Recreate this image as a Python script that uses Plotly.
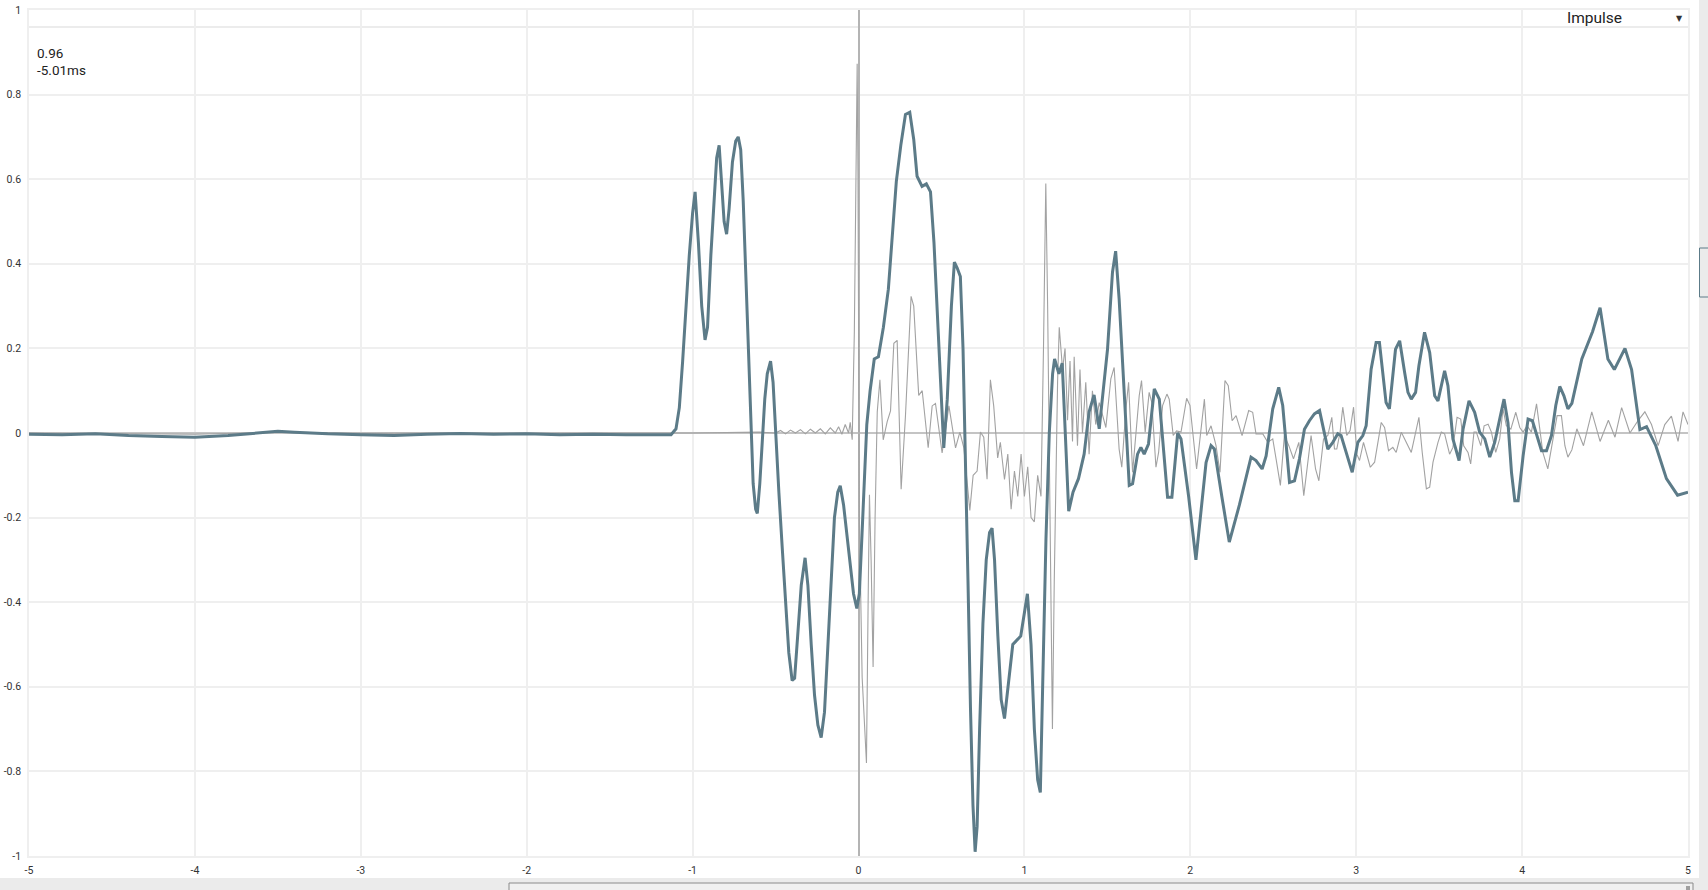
import plotly.graph_objects as go

# ---------------- data ----------------
thick_t = [-5.0, -4.8, -4.6, -4.4, -4.2, -4.0, -3.8, -3.6, -3.5, -3.4, -3.2, -3.0, -2.8, -2.6, -2.4,
           -2.2, -2.0, -1.8, -1.6, -1.4, -1.2, -1.13, -1.1, -1.08, -1.06, -1.04, -1.02, -1.0, -0.985,
           -0.965, -0.945, -0.925, -0.91, -0.89, -0.87, -0.855, -0.84, -0.825, -0.81, -0.795, -0.78,
           -0.76, -0.74, -0.725, -0.71, -0.695, -0.68, -0.665, -0.65, -0.635, -0.62, -0.61, -0.595,
           -0.58, -0.565, -0.55, -0.53, -0.515, -0.5, -0.48, -0.46, -0.44, -0.42, -0.4, -0.385, -0.365,
           -0.345, -0.322, -0.305, -0.285, -0.265, -0.245, -0.225, -0.205, -0.185, -0.165, -0.145,
           -0.125, -0.11, -0.09, -0.07, -0.05, -0.03, -0.01, 0.005, 0.02, 0.035, 0.05, 0.07, 0.095,
           0.12, 0.15, 0.18, 0.205, 0.228, 0.255, 0.283, 0.309, 0.333, 0.353, 0.383, 0.409, 0.434,
           0.455, 0.475, 0.495, 0.514, 0.535, 0.56, 0.578, 0.595, 0.614, 0.63, 0.645, 0.66, 0.675,
           0.69, 0.703, 0.715, 0.73, 0.75, 0.77, 0.79, 0.805, 0.82, 0.84, 0.86, 0.88, 0.9, 0.93,
           0.978, 1.018, 1.04, 1.06, 1.08, 1.096, 1.11, 1.13, 1.15, 1.17, 1.182, 1.208, 1.228, 1.248,
           1.267, 1.293, 1.326, 1.36, 1.39, 1.42, 1.451, 1.475, 1.501, 1.531, 1.55, 1.571, 1.602,
           1.632, 1.652, 1.682, 1.702, 1.722, 1.748, 1.783, 1.813, 1.863, 1.889, 1.924, 1.944, 1.99,
           2.034, 2.06, 2.095, 2.125, 2.145, 2.19, 2.235, 2.296, 2.366, 2.396, 2.433, 2.457, 2.497,
           2.533, 2.557, 2.598, 2.628, 2.658, 2.688, 2.718, 2.748, 2.779, 2.799, 2.829, 2.859, 2.889,
           2.909, 2.94, 2.976, 3.01, 3.04, 3.06, 3.09, 3.12, 3.14, 3.18, 3.2, 3.237, 3.262, 3.292,
           3.312, 3.332, 3.358, 3.378, 3.412, 3.443, 3.473, 3.493, 3.513, 3.533, 3.553, 3.583, 3.62,
           3.644, 3.68, 3.714, 3.744, 3.775, 3.805, 3.835, 3.865, 3.891, 3.915, 3.936, 3.956, 3.976,
           4.006, 4.036, 4.062, 4.087, 4.117, 4.147, 4.177, 4.203, 4.227, 4.252, 4.276, 4.3, 4.36,
           4.425, 4.47, 4.517, 4.556, 4.62, 4.66, 4.71, 4.75, 4.806, 4.87, 4.937, 5.0]
thick_v = [-0.003, -0.004, -0.002, -0.006, -0.008, -0.01, -0.006, 0.0, 0.004, 0.002, -0.002, -0.004,
           -0.006, -0.003, -0.001, -0.003, -0.002, -0.004, -0.003, -0.004, -0.005, -0.004, 0.01, 0.06,
           0.17, 0.3, 0.42, 0.52, 0.57, 0.45, 0.3, 0.22, 0.25, 0.42, 0.57, 0.65, 0.68, 0.58, 0.5,
           0.47, 0.53, 0.64, 0.69, 0.70, 0.67, 0.55, 0.38, 0.2, 0.05, -0.12, -0.18, -0.19, -0.12,
           -0.02, 0.08, 0.14, 0.17, 0.12, 0.0, -0.14, -0.27, -0.4, -0.52, -0.585, -0.58, -0.47, -0.36,
           -0.295, -0.36, -0.5, -0.62, -0.69, -0.72, -0.66, -0.5, -0.34, -0.2, -0.14, -0.125, -0.17,
           -0.24, -0.3, -0.38, -0.415, -0.38, -0.25, -0.1, 0.02, 0.1, 0.175, 0.18, 0.25, 0.34, 0.47,
           0.595, 0.68, 0.753, 0.758, 0.694, 0.607, 0.583, 0.589, 0.57, 0.45, 0.3, 0.12, -0.035, 0.08,
           0.3, 0.404, 0.39, 0.37, 0.2, -0.05, -0.35, -0.65, -0.88, -0.99, -0.93, -0.7, -0.45, -0.3,
           -0.235, -0.225, -0.3, -0.48, -0.63, -0.675, -0.6, -0.5, -0.48, -0.38, -0.5, -0.7, -0.82,
           -0.85, -0.6, -0.25, 0.0, 0.14, 0.175, 0.14, 0.165, 0.0, -0.185, -0.14, -0.108, -0.05, 0.05,
           0.09, 0.01, 0.1, 0.198, 0.38, 0.43, 0.317, 0.08, -0.124, -0.12, -0.05, -0.034, -0.05,
           -0.026, 0.104, 0.08, -0.152, -0.152, 0.0, -0.014, -0.15, -0.30, -0.2, -0.07, -0.03, -0.038,
           -0.15, -0.258, -0.17, -0.057, -0.065, -0.085, -0.054, 0.057, 0.108, 0.065, -0.117, -0.113,
           -0.061, 0.009, 0.029, 0.045, 0.053, 0.017, -0.038, -0.022, -0.002, -0.006, -0.046, -0.093,
           -0.022, -0.006, 0.017, 0.151, 0.214, 0.214, 0.072, 0.057, 0.198, 0.218, 0.143, 0.096, 0.08,
           0.096, 0.159, 0.238, 0.19, 0.088, 0.076, 0.112, 0.147, 0.112, -0.014, -0.065, 0.009, 0.076,
           0.049, 0.002, -0.014, -0.057, -0.022, 0.033, 0.08, 0.024, -0.093, -0.16, -0.16, -0.054,
           0.033, 0.029, -0.006, -0.042, -0.042, -0.006, 0.065, 0.11, 0.088, 0.057, 0.07, 0.175, 0.24,
           0.296, 0.175, 0.15, 0.2, 0.15, 0.008, 0.015, -0.03, -0.108, -0.147, -0.14]

thin_t = [-5.0, -4.5, -4.0, -3.5, -3.0, -2.5, -2.0, -1.5, -1.0, -0.6, -0.5, -0.47, -0.44, -0.41,
          -0.38, -0.35, -0.32, -0.29, -0.26, -0.23, -0.2, -0.17, -0.14, -0.12, -0.1, -0.08, -0.06,
          -0.05, -0.038, -0.025, -0.015, -0.008, -0.003, 0.005, 0.022, 0.038, 0.048, 0.058, 0.066,
          0.076, 0.088, 0.1, 0.113, 0.129, 0.149, 0.173, 0.193, 0.213, 0.233, 0.257, 0.283, 0.317,
          0.333, 0.363, 0.384, 0.42, 0.444, 0.464, 0.504, 0.545, 0.585, 0.611, 0.635, 0.671, 0.691,
          0.715, 0.735, 0.755, 0.775, 0.795, 0.815, 0.839, 0.855, 0.88, 0.9, 0.92, 0.94, 0.96, 0.98,
          1.0, 1.02, 1.04, 1.06, 1.08, 1.1, 1.115, 1.129, 1.14, 1.155, 1.169, 1.18, 1.19, 1.2, 1.21,
          1.23, 1.245, 1.26, 1.275, 1.29, 1.3, 1.32, 1.335, 1.35, 1.37, 1.39, 1.41, 1.43, 1.451,
          1.491, 1.521, 1.541, 1.571, 1.587, 1.612, 1.628, 1.652, 1.672, 1.692, 1.706, 1.728, 1.752,
          1.768, 1.793, 1.809, 1.833, 1.859, 1.873, 1.897, 1.917, 1.944, 1.978, 1.998, 2.038, 2.085,
          2.099, 2.125, 2.145, 2.155, 2.179, 2.209, 2.229, 2.252, 2.276, 2.312, 2.352, 2.376, 2.396,
          2.437, 2.467, 2.497, 2.517, 2.543, 2.567, 2.594, 2.622, 2.654, 2.684, 2.708, 2.728, 2.755,
          2.775, 2.803, 2.829, 2.853, 2.869, 2.883, 2.903, 2.919, 2.943, 2.963, 2.984, 3.004, 3.02,
          3.044, 3.085, 3.111, 3.151, 3.171, 3.195, 3.221, 3.241, 3.272, 3.302, 3.332, 3.352, 3.378,
          3.398, 3.423, 3.443, 3.463, 3.493, 3.513, 3.533, 3.563, 3.583, 3.608, 3.63, 3.648, 3.674,
          3.69, 3.71, 3.724, 3.751, 3.771, 3.795, 3.815, 3.841, 3.865, 3.885, 3.905, 3.932, 3.962,
          3.986, 4.006, 4.03, 4.056, 4.087, 4.107, 4.125, 4.155, 4.175, 4.211, 4.237, 4.258, 4.276,
          4.3, 4.33, 4.37, 4.42, 4.47, 4.52, 4.56, 4.6, 4.65, 4.7, 4.74, 4.78, 4.82, 4.86, 4.9,
          4.94, 4.97, 5.0]
thin_v = [0.0, -0.002, -0.003, 0.002, -0.001, 0.0, -0.001, 0.0, 0.0, 0.002, 0.0, 0.006, -0.002,
          0.007, 0.0, 0.008, -0.002, 0.009, 0.0, 0.01, -0.002, 0.012, 0.0, 0.015, -0.003, 0.02, 0.0,
          0.025, -0.016, 0.24, 0.7, 0.873, 0.6, -0.2, -0.578, -0.7, -0.78, -0.4, -0.146, -0.3,
          -0.553, -0.2, 0.05, 0.126, -0.016, 0.027, 0.052, 0.212, 0.219, -0.133, 0.04, 0.323, 0.3,
          0.089, 0.1, -0.035, 0.064, 0.07, -0.047, 0.064, -0.035, 0.002, -0.035, -0.183, -0.1,
          -0.09, 0.002, -0.01, -0.109, 0.126, 0.064, -0.059, -0.022, -0.11, -0.05, -0.18, -0.09,
          -0.15, -0.05, -0.15, -0.08, -0.2, -0.21, -0.1, -0.15, 0.2, 0.59, 0.3, -0.3, -0.7, -0.35,
          -0.1, 0.12, 0.25, 0.15, 0.2, 0.03, 0.17, -0.02, 0.18, -0.03, 0.15, 0.0, 0.12, -0.05, 0.1,
          0.02, 0.072, 0.013, 0.128, 0.155, -0.038, -0.081, 0.057, 0.12, -0.093, 0.002, 0.088,
          0.124, 0.002, 0.096, 0.072, -0.081, -0.046, 0.065, 0.092, 0.08, -0.006, 0.005, 0.002,
          0.082, 0.065, -0.085, 0.08, -0.006, 0.017, -0.014, -0.03, -0.093, 0.124, 0.112, 0.029,
          0.041, -0.006, 0.053, 0.049, -0.002, -0.002, -0.022, -0.014, -0.061, -0.124, -0.006,
          -0.03, -0.061, -0.022, -0.148, -0.069, -0.006, -0.085, -0.113, -0.014, -0.006, 0.037,
          -0.038, -0.038, 0.002, 0.061, -0.006, 0.006, 0.061, -0.05, -0.065, -0.022, -0.081, -0.069,
          0.025, 0.013, -0.042, -0.034, -0.046, 0.002, -0.022, -0.046, -0.01, 0.037, -0.046, -0.132,
          -0.128, -0.069, -0.022, 0.002, -0.002, -0.05, -0.034, 0.037, 0.033, -0.03, -0.046, -0.073,
          0.002, 0.002, -0.03, 0.017, 0.021, 0.002, -0.046, -0.014, 0.057, 0.017, 0.009, 0.049,
          0.013, 0.002, 0.017, 0.002, 0.069, 0.002, -0.046, -0.085, -0.038, 0.041, 0.041, -0.03,
          -0.057, -0.04, 0.01, -0.03, 0.05, -0.02, 0.03, -0.01, 0.06, 0.0, 0.03, 0.05, 0.02, -0.03,
          0.02, 0.04, -0.02, 0.05, 0.02, -0.045]

x_ticks = [-5, -4, -3, -2, -1, 0, 1, 2, 3, 4, 5]
x_tick_text = ["-5", "-4", "-3", "-2", "-1", "0", "1", "2", "3", "4", "5"]
y_ticks = [1, 0.8, 0.6, 0.4, 0.2, 0, -0.2, -0.4, -0.6, -0.8, -1]
y_tick_text = ["1", "0.8", "0.6", "0.4", "0.2", "0", "-0.2", "-0.4", "-0.6", "-0.8", "-1"]

cursor_value = 0.96
cursor_label = ["0.96", "-5.01ms"]
mode_label = "Impulse"

# ---------------- layout geometry (pixels) ----------------
W, H = 1708, 890
L, R, T, B = 29, 1688, 10, 856


def px(xp):
    return (xp - L) / (R - L)


def py(yp):
    return (B - yp) / (B - T)


THICK = "#5c7b88"
THIN = "#a2a2a2"
GRID = "#efefef"
FONT = "Roboto"

fig = go.Figure()
fig.add_trace(go.Scatter(x=thin_t, y=thin_v, mode="lines",
                         line=dict(color=THIN, width=1.1), hoverinfo="skip", showlegend=False))
fig.add_trace(go.Scatter(x=thick_t, y=thick_v, mode="lines",
                         line=dict(color=THICK, width=3), hoverinfo="skip", showlegend=False))

shapes = [
    # cursor horizontal line
    dict(type="line", xref="paper", yref="y", x0=0, x1=1, y0=cursor_value, y1=cursor_value,
         line=dict(color="#e6e6e6", width=1.5), layer="below"),
    # right gray strip
    dict(type="rect", xref="paper", yref="paper", x0=px(1699), x1=px(1712), y0=py(895), y1=py(-5),
         fillcolor="#ebebeb", line=dict(width=0)),
    # bottom gray strip
    dict(type="rect", xref="paper", yref="paper", x0=px(-5), x1=px(1712), y0=py(895), y1=py(878),
         fillcolor="#ebebeb", line=dict(width=0)),
    # bottom scroll thumb
    dict(type="rect", xref="paper", yref="paper", x0=px(509), x1=px(1693), y0=py(893), y1=py(883),
         fillcolor="#f0f0f0", line=dict(color="#8a8a8a", width=1)),
    dict(type="rect", xref="paper", yref="paper", x0=px(1686), x1=px(1690), y0=py(892), y1=py(886),
         fillcolor="#a0a0a0", line=dict(width=0)),
    # right side thumb
    dict(type="rect", xref="paper", yref="paper", x0=px(1699.5), x1=px(1712), y0=py(297), y1=py(248),
         fillcolor="#ebebeb", line=dict(color=THICK, width=1)),
]

annotations = [
    dict(xref="paper", yref="paper", x=px(35), y=py(53), text=cursor_label[0], showarrow=False,
         xanchor="left", yanchor="middle", font=dict(family=FONT, size=13.5, color="#222")),
    dict(xref="paper", yref="paper", x=px(35), y=py(70), text=cursor_label[1], showarrow=False,
         xanchor="left", yanchor="middle", font=dict(family=FONT, size=13.5, color="#222")),
    dict(xref="paper", yref="paper", x=px(1565), y=py(18), text=mode_label, showarrow=False,
         xanchor="left", yanchor="middle", font=dict(family=FONT, size=15.5, color="#222")),
    dict(xref="paper", yref="paper", x=px(1679), y=py(19), text="▼", showarrow=False,
         xanchor="center", yanchor="middle", font=dict(family="DejaVu Sans", size=8, color="#333")),
]

fig.update_layout(
    width=W, height=H,
    margin=dict(l=L, r=W - R, t=T, b=H - B, pad=0, autoexpand=False),
    paper_bgcolor="white", plot_bgcolor="white",
    showlegend=False,
    shapes=shapes, annotations=annotations,
    xaxis=dict(range=[-5, 5], tickvals=x_ticks, ticktext=x_tick_text,
               showgrid=True, gridcolor=GRID, gridwidth=1.5,
               zeroline=True, zerolinecolor="#b4b4b4", zerolinewidth=1.5,
               showline=True, linecolor=GRID, linewidth=1.5, mirror=True,
               ticks="", ticklabelstandoff=4, automargin=False,
               tickfont=dict(family=FONT, size=10.5, color="#333"), fixedrange=True),
    yaxis=dict(range=[-1, 1], tickvals=y_ticks, ticktext=y_tick_text,
               showgrid=True, gridcolor=GRID, gridwidth=1.5,
               zeroline=True, zerolinecolor="#c4c4c4", zerolinewidth=1.5,
               showline=True, linecolor=GRID, linewidth=1.5, mirror=True,
               ticks="", ticklabelstandoff=4, automargin=False,
               tickfont=dict(family=FONT, size=10.5, color="#333"), fixedrange=True),
)

fig.write_html("out.html", config={"displayModeBar": False},
               post_script="document.body.style.margin='0';document.body.style.overflow='hidden';")
